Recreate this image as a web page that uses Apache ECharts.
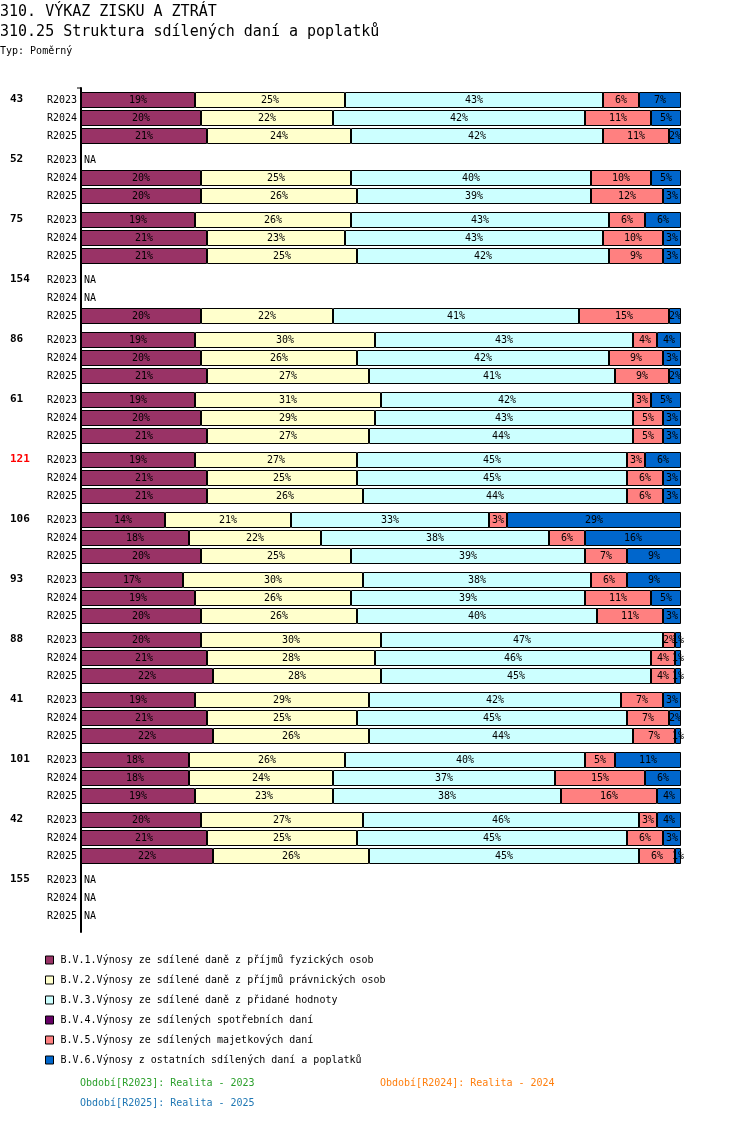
<!DOCTYPE html>
<html><head><meta charset="utf-8">
<script src="https://cdn.jsdelivr.net/npm/echarts@6/dist/echarts.min.js"></script>
<style>html,body{margin:0;padding:0;background:#fff}#c{width:750px;height:1142px}</style>
</head><body><div id="c"></div>
<script>
const groups = ['43','52','75','154','86','61','121','106','93','88','41','101','42','155'];
const highlightGroups = ['121'];
const periods = ['R2023','R2024','R2025'];
const seriesNames = [
  'B.V.1.Výnosy ze sdílené daně z příjmů fyzických osob',
  'B.V.2.Výnosy ze sdílené daně z příjmů právnických osob',
  'B.V.3.Výnosy ze sdílené daně z přidané hodnoty',
  'B.V.4.Výnosy ze sdílených spotřebních daní',
  'B.V.5.Výnosy ze sdílených majetkových daní',
  'B.V.6.Výnosy z ostatních sdílených daní a poplatků'
];
const seriesColors = ['#993366','#FFFFCC','#CCFFFF','#660066','#FF8080','#0066CC'];
// values in %, group-major (3 periods per group), null = NA
const fyzicke = [19,20,21, null,20,20, 19,21,21, null,null,20, 19,20,21, 19,20,21, 19,21,21, 14,18,20, 17,19,20, 20,21,22, 19,21,22, 18,18,19, 20,21,22, null,null,null];
const pravnicke = [25,22,24, null,25,26, 26,23,25, null,null,22, 30,26,27, 31,29,27, 27,25,26, 21,22,25, 30,26,26, 30,28,28, 29,25,26, 26,24,23, 27,25,26, null,null,null];
const dph = [43,42,42, null,40,39, 43,43,42, null,null,41, 43,42,41, 42,43,44, 45,45,44, 33,38,39, 38,39,40, 47,46,45, 42,45,44, 40,37,38, 46,45,45, null,null,null];
const spotrebni = [0,0,0, null,0,0, 0,0,0, null,null,0, 0,0,0, 0,0,0, 0,0,0, 0,0,0, 0,0,0, 0,0,0, 0,0,0, 0,0,0, 0,0,0, null,null,null];
const majetkove = [6,11,11, null,10,12, 6,10,9, null,null,15, 4,9,9, 3,5,5, 3,6,6, 3,6,7, 6,11,11, 2,4,4, 7,7,7, 5,15,16, 3,6,6, null,null,null];
const ostatni = [7,5,2, null,5,3, 6,3,3, null,null,2, 4,3,2, 5,3,3, 6,3,3, 29,16,9, 9,5,3, 1,1,1, 3,2,1, 11,6,4, 4,3,1, null,null,null];
const seriesData = [fyzicke, pravnicke, dph, spotrebni, majetkove, ostatni];
const footer = [
  {text:'Období[R2023]: Realita - 2023', color:'#2CA02C', x:80, y:1084},
  {text:'Období[R2024]: Realita - 2024', color:'#FF7F0E', x:380, y:1084},
  {text:'Období[R2025]: Realita - 2025', color:'#1F77B4', x:80, y:1104}
];

const FONT = 'DejaVu Sans Mono';
const chart = echarts.init(document.getElementById('c'), null, {renderer:'canvas'});
const grids = [], xAxes = [], yAxes = [], series = [], graphics = [];
const GTOP = 91, GPITCH = 60, GH = 54;
groups.forEach((g, gi) => {
  grids.push({left:81, width:600, top:GTOP + gi*GPITCH, height:GH});
  xAxes.push({gridIndex:gi, type:'value', min:0, max:100, show:false});
  yAxes.push({gridIndex:gi, type:'category', data:periods, inverse:true,
    axisLine:{show:false}, axisTick:{show:false},
    axisLabel:{color:'#000', fontFamily:FONT, fontSize:10, margin:4}});
  seriesData.forEach((arr, si) => {
    const data = periods.map((p, pi) => {
      const v = arr[gi*3 + pi];
      if (v === null) {
        if (si === 0) return {value:0, itemStyle:{borderWidth:0},
          label:{show:true, position:'right', distance:3, formatter:'NA', color:'#000'}};
        return null;
      }
      return v;
    });
    series.push({
      type:'bar', name:seriesNames[si], xAxisIndex:gi, yAxisIndex:gi, stack:'s'+gi,
      barWidth:16, data:data, animation:false,
      itemStyle:{color:seriesColors[si], borderColor:'#000', borderWidth:1},
      label:{show:true, position:'inside', color:'#000', fontFamily:FONT, fontSize:10,
        overflow:'none', width:null, textBorderWidth:0,
        formatter: p => (p.value ? p.value + '%' : '')},
      labelLayout:{hideOverlap:false},
      emphasis:{disabled:true}
    });
  });
  graphics.push({type:'text', left:10, top:GTOP + gi*GPITCH + 3,
    style:{text:g, fill: highlightGroups.includes(g) ? '#FF0000' : '#000', font:'bold 11px "'+FONT+'"'}});
});
// continuous left axis line
const ai = groups.length;
grids.push({left:81, width:600, top:88, height:844});
xAxes.push({gridIndex:ai, type:'value', show:false});
yAxes.push({gridIndex:ai, type:'category', data:[''], axisLine:{show:true, lineStyle:{color:'#000', width:2}},
  axisTick:{show:false}, axisLabel:{show:false}, splitLine:{show:false}});

graphics.push({type:'text', left:0, top:5, style:{text:'310. VÝKAZ ZISKU A ZTRÁT', fill:'#000', font:'15px "'+FONT+'"'}});
graphics.push({type:'text', left:0, top:25, style:{text:'310.25 Struktura sdílených daní a poplatků', fill:'#000', font:'15px "'+FONT+'"'}});
graphics.push({type:'text', left:0, top:46, style:{text:'Typ: Poměrný', fill:'#000', font:'10px "'+FONT+'"'}});
graphics.push({type:'line', shape:{x1:77, y1:88, x2:81, y2:88}, style:{stroke:'#000', lineWidth:1}});
footer.forEach(f => graphics.push({type:'text', left:f.x, top:f.y - 6,
  style:{text:f.text, fill:f.color, font:'10px "'+FONT+'"'}}));

chart.setOption({
  animation:false,
  textStyle:{fontFamily:FONT},
  grid:grids, xAxis:xAxes, yAxis:yAxes, series:series,
  legend:{data:seriesNames, orient:'vertical', left:40, top:949, itemWidth:8, itemHeight:8, itemGap:8,
    icon:'rect', selectedMode:false,
    itemStyle:{borderColor:'#000', borderWidth:1},
    textStyle:{color:'#000', fontFamily:FONT, fontSize:10, lineHeight:12, padding:[0,0,0,2]}},
  graphic:graphics
});
</script></body></html>
